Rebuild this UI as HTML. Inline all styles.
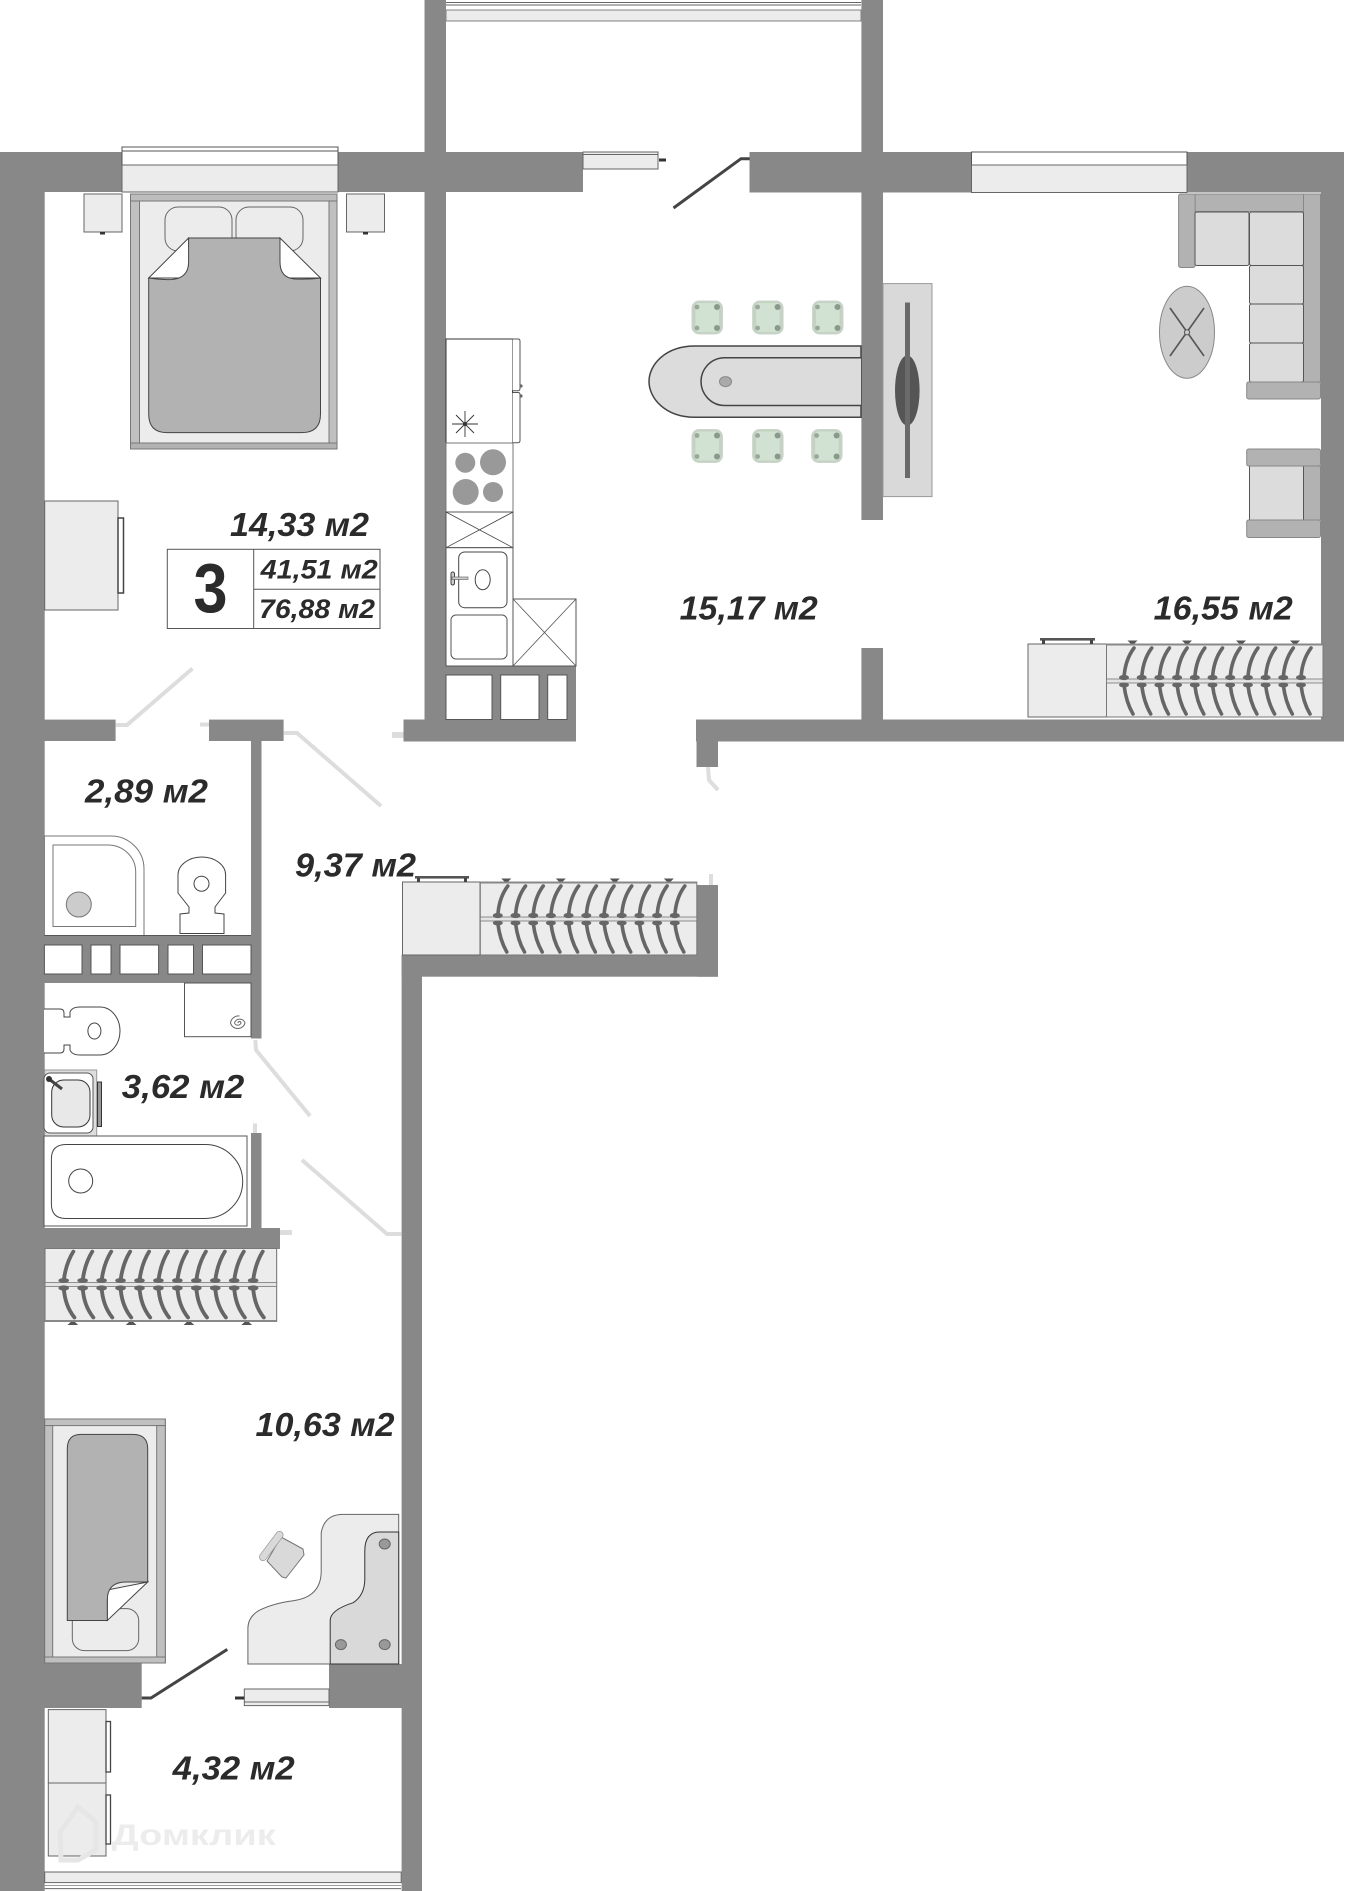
<!DOCTYPE html>
<html><head><meta charset="utf-8"><style>
html,body{margin:0;padding:0;background:#fff}
svg{display:block}
text{font-family:"Liberation Sans",sans-serif;font-weight:bold;font-style:italic;fill:#2b2b2b}
.w{fill:#888}
.l{fill:#fff;stroke:#555;stroke-width:1}
.g{fill:#ececec;stroke:#666;stroke-width:1}
.b{fill:#b2b2b2;stroke:#777;stroke-width:1}
.c{fill:#dcdcdc;stroke:#555;stroke-width:1}
.dl{fill:none;stroke:#ddd;stroke-width:4}
.dd{fill:none;stroke:#444;stroke-width:3}
</style></head><body>
<svg width="1345" height="1891" viewBox="0 0 1345 1891" xmlns="http://www.w3.org/2000/svg">
<defs>
<g id="h">
<path d="M10,4Q1,16 0,34" fill="none" stroke="#666" stroke-width="3.6" stroke-linecap="round"/>
<path d="M0,41Q2,58 9,70" fill="none" stroke="#666" stroke-width="3.6" stroke-linecap="round"/>
<ellipse cx="0" cy="33.5" rx="5" ry="2.6" fill="#666"/>
<ellipse cx="0" cy="41" rx="5" ry="2.4" fill="#666"/>
</g>
<g id="rack">
<rect x="0" y="0" width="216.5" height="73" fill="#ececec" stroke="#777"/>
<rect x="0" y="-.5" width="216.5" height="2" fill="#888"/>
<rect x="0" y="35" width="216.5" height="4" fill="#e4e4e4" stroke="#777" stroke-width=".8"/>
<use href="#h" x="17.5"/><use href="#h" x="35.2"/><use href="#h" x="52.9"/><use href="#h" x="70.6"/><use href="#h" x="88.3"/><use href="#h" x="106"/><use href="#h" x="123.7"/><use href="#h" x="141.4"/><use href="#h" x="159.1"/><use href="#h" x="176.8"/><use href="#h" x="194.5"/>
<path d="M21,-3.5H31L28,-.5H24ZM75.5,-3.5H85.5L82.5,-.5H78.5ZM129.5,-3.5H139.5L136.5,-.5H132.5ZM183.5,-3.5H193.5L190.5,-.5H186.5Z" fill="#555"/>
</g>
<g id="chair">
<rect x="0" y="0" width="30.5" height="33" rx="7" fill="#c4d2c4" stroke="#cdd6cd" stroke-width="1"/>
<rect x="3.5" y="2" width="23.5" height="29" rx="3" fill="#d2e2d2"/>
<ellipse cx="5" cy="6" rx="2.4" ry="2.4" fill="#9aa89a"/><ellipse cx="25" cy="6" rx="3" ry="3" fill="#8a9a8a"/><ellipse cx="5" cy="27" rx="2.4" ry="2.4" fill="#9aa89a"/><ellipse cx="25" cy="27" rx="3" ry="3" fill="#8a9a8a"/>
</g>
</defs>

<!-- balcony top window -->
<rect x="446" y="0" width="415" height="21" fill="#fff"/>
<rect x="446" y="10" width="415" height="11" fill="#ececec" stroke="#666" stroke-width=".8"/>
<line x1="446" y1="2.5" x2="861" y2="2.5" stroke="#666"/><line x1="446" y1="5" x2="861" y2="5" stroke="#666"/>

<!-- walls -->
<rect class="w" x="0" y="152" width="44.7" height="1739"/>
<rect class="w" x="0" y="152" width="122" height="40"/>
<rect class="w" x="338" y="152" width="245" height="40"/>
<rect class="w" x="424.5" y="0" width="21.5" height="741"/>
<rect class="w" x="749.5" y="152" width="222" height="40.5"/>
<rect class="w" x="861.4" y="0" width="21.6" height="520"/>
<rect class="w" x="861.4" y="648" width="21.6" height="72"/>
<rect class="w" x="1187" y="152" width="157" height="40.5"/>
<rect class="w" x="1321" y="152" width="23" height="589"/>
<rect class="w" x="696" y="719.5" width="648" height="22"/>
<rect class="w" x="696.5" y="719.5" width="21.5" height="47.5"/>
<!-- kitchen shaft -->
<rect class="w" x="403.5" y="719.5" width="172.5" height="22"/>
<rect class="w" x="446" y="666" width="130" height="75"/>
<rect x="446" y="675" width="46" height="44.5" class="l"/>
<rect x="500.7" y="675" width="38.3" height="44.5" class="l"/>
<rect x="547.7" y="675" width="19.3" height="44.5" class="l"/>
<!-- hall walls -->
<rect class="w" x="44" y="719.6" width="71.6" height="21.4"/>
<rect class="w" x="209" y="719.6" width="74.6" height="21.4"/>
<rect class="w" x="251" y="741" width="10.5" height="297.5"/>
<rect class="w" x="44" y="935.5" width="217" height="47.5"/>
<rect x="44.4" y="945" width="37.6" height="29" class="l" stroke-width=".5"/>
<rect x="91" y="945" width="20" height="29" class="l" stroke-width=".5"/>
<rect x="120" y="945" width="38.6" height="29" class="l" stroke-width=".5"/>
<rect x="168" y="945" width="25.5" height="29" class="l" stroke-width=".5"/>
<rect x="202.5" y="945" width="48.5" height="29" class="l" stroke-width=".5"/>
<rect class="w" x="251" y="1133" width="10.5" height="95"/>
<rect class="w" x="44" y="1228" width="236" height="21"/>
<rect class="w" x="401.6" y="955" width="20.4" height="936"/>
<rect class="w" x="401.6" y="955" width="316.4" height="21.7"/>
<rect class="w" x="697" y="885" width="21" height="91.7"/>
<rect class="w" x="44" y="1663" width="97.7" height="45"/>
<rect class="w" x="329" y="1664" width="73" height="44"/>

<!-- windows -->
<rect x="122" y="147" width="216" height="45" fill="#fff" stroke="#555"/>
<rect x="122" y="165" width="216" height="27" class="g"/>
<line x1="122" y1="151" x2="338" y2="151" stroke="#555"/>
<rect x="971.5" y="152" width="215.5" height="40.5" fill="#fff" stroke="#555"/>
<rect x="971.5" y="165" width="215.5" height="27.5" class="g"/>
<rect x="583" y="152" width="75" height="17" class="g"/>
<line x1="583" y1="154.5" x2="658" y2="154.5" stroke="#666"/>
<rect x="659" y="158.5" width="7" height="3" fill="#333"/>

<!-- doors -->
<path class="dd" d="M749.6,158.7H741L673.5,208"/>
<path class="dd" d="M141.7,1698H151L227.3,1649.4"/>
<path class="dl" d="M115.6,725H127L192.5,668.5"/>
<path class="dl" d="M283.6,733H297L381,806"/>
<path class="dl" d="M255.3,1040L256,1050L310,1116"/>
<path class="dl" d="M302,1160L387,1234H401.6"/>
<path class="dl" d="M708,767L709,780L718,790"/>
<rect x="200" y="722.5" width="9" height="4" fill="#ddd"/>
<rect x="392" y="732" width="11.5" height="6" fill="#ddd"/>
<rect x="709" y="874" width="4" height="11" fill="#ddd"/>
<rect x="253" y="1123.5" width="4" height="9.5" fill="#ddd"/>
<rect x="280" y="1230" width="12" height="5" fill="#ddd"/>

<!-- nightstands -->
<rect x="84" y="194" width="38" height="38" class="g"/><rect x="100" y="232" width="5" height="2.5" fill="#333"/>
<rect x="346.5" y="194" width="38" height="38" class="g"/><rect x="363" y="232" width="5" height="2.5" fill="#333"/>
<!-- bed 1 -->
<rect x="130.5" y="194" width="206.5" height="255" class="g"/>
<rect x="130.5" y="194" width="206.5" height="7" class="b" fill-opacity=".8"/>
<rect x="130.5" y="443" width="206.5" height="6" class="b"/>
<rect x="130.5" y="201" width="9" height="242" fill="#c0c0c0" stroke="#777"/>
<rect x="329" y="201" width="8" height="242" fill="#c0c0c0" stroke="#777"/>
<rect x="165" y="207" width="67" height="44" rx="13" class="g" stroke="#555"/>
<rect x="236" y="207" width="67" height="44" rx="13" class="g" stroke="#555"/>
<path d="M188.6,238L148.7,278H190ZM280,238L320.5,278H278Z" fill="#fff" stroke="#444"/>
<path d="M188.6,238H280V262Q280,278 295,279Q310,279.5 320.5,278V414Q320.5,432.6 302,432.6H167Q148.7,432.6 148.7,414V278Q160,280 172,279.5Q188.6,278 188.6,262Z" fill="#b2b2b2" stroke="#444"/>
<!-- bedroom wardrobe -->
<rect x="44.7" y="501" width="73.3" height="109" class="g"/>
<rect x="118" y="518" width="5.5" height="75" fill="#fff" stroke="#444" stroke-width="1.5"/>

<!-- kitchen -->
<rect x="446" y="339" width="66.5" height="104" fill="#fff" stroke="#333"/>
<path d="M512.5,339H518Q520,339 520,341V388.5Q520,390.7 518,390.7H512.5M512.5,392.5H518Q520,392.5 520,394.5V440.5Q520,442.7 518,442.7H512.5" fill="#fff" stroke="#555"/>
<circle cx="521" cy="386" r="1.6" fill="#666"/><circle cx="521" cy="396" r="1.6" fill="#666"/>
<g stroke="#333" stroke-width=".9"><line x1="452" y1="424" x2="478" y2="424"/><line x1="465" y1="411" x2="465" y2="437"/><line x1="456" y1="415" x2="474" y2="433"/><line x1="474" y1="415" x2="456" y2="433"/></g>
<circle cx="465" cy="424" r="2" fill="#333"/>
<rect x="446" y="443" width="67" height="69" fill="#fff" stroke="#777"/>
<circle cx="465.3" cy="462.7" r="10" fill="#999"/><circle cx="493" cy="462.3" r="13" fill="#999"/><circle cx="465.7" cy="492" r="13" fill="#999"/><circle cx="493" cy="492" r="10" fill="#999"/>
<rect x="446" y="512" width="67" height="35.7" fill="#fff" stroke="#555"/>
<path d="M446,512L513,547.7M513,512L446,547.7" stroke="#444" fill="none" stroke-width=".8"/>
<rect x="446" y="547.7" width="67" height="118.3" fill="#fff" stroke="#555"/>
<rect x="458.7" y="552" width="48.3" height="55.7" rx="6" fill="#fff" stroke="#444"/>
<ellipse cx="482.7" cy="579.7" rx="7.5" ry="10" fill="#fff" stroke="#444"/>
<rect x="451" y="572" width="3.5" height="13" rx="1.7" fill="#ccc" stroke="#444"/><rect x="452" y="577" width="16" height="2.5" fill="#ccc" stroke="#555" stroke-width=".6"/>
<rect x="451" y="615" width="56" height="44" rx="5" fill="#fff" stroke="#555"/>
<rect x="513" y="599" width="63" height="67" fill="#fff" stroke="#555"/>
<path d="M513,599L576,666M576,599L513,666" stroke="#555" fill="none" stroke-width=".8"/>

<!-- dining -->
<path d="M861,346H695C665,346 649,365 649,381.5C649,398 665,417.3 695,417.3H861Z" fill="#dcdcdc" stroke="#444" stroke-width="1.5"/>
<path d="M861,357.7H725C710,357.7 701,370 701,381.5C701,393 710,405.5 725,405.5H861" fill="#dcdcdc" stroke="#444" stroke-width="1.5"/>
<ellipse cx="725.5" cy="381.6" rx="6" ry="5" fill="#aaa" stroke="#888"/>
<use href="#chair" x="692" y="301"/><use href="#chair" x="752.6" y="301"/><use href="#chair" x="812.5" y="301"/>
<use href="#chair" x="692" y="429.5"/><use href="#chair" x="752.6" y="429.5"/><use href="#chair" x="811.6" y="429.5"/>
<!-- TV -->
<rect x="883" y="283.6" width="49" height="213" fill="#d9d9d9" stroke="#999"/>
<ellipse cx="907.3" cy="390.5" rx="12.3" ry="35" fill="#555"/>
<rect x="905" y="302.5" width="5" height="175.5" fill="#6a6a6a"/>

<!-- sofa -->
<rect x="1303.5" y="194" width="17" height="188" fill="#b2b2b2" stroke="#888"/>
<rect x="1195" y="194" width="108.5" height="17.5" fill="#b2b2b2" stroke="#888"/>
<rect x="1178.6" y="194" width="16.5" height="73.5" rx="2" fill="#b2b2b2" stroke="#888"/>
<rect x="1195" y="212" width="54" height="53.5" rx="2" fill="#dcdcdc" stroke="#555"/>
<rect x="1249.5" y="212" width="54" height="53.5" rx="2" fill="#dcdcdc" stroke="#555"/>
<rect x="1249.5" y="265.5" width="54" height="38.5" rx="2" fill="#dcdcdc" stroke="#555"/>
<rect x="1249.5" y="304" width="54" height="39" rx="2" fill="#dcdcdc" stroke="#555"/>
<rect x="1249.5" y="343" width="54" height="39" rx="2" fill="#dcdcdc" stroke="#555"/>
<rect x="1246.7" y="382" width="73.8" height="17" rx="2" fill="#b2b2b2" stroke="#888"/>
<ellipse cx="1187" cy="332.3" rx="27.5" ry="46" fill="#ccc" stroke="#888"/>
<path d="M1170,308L1204,356M1204,308L1170,356" stroke="#555" stroke-width="1.6" fill="none"/>
<circle cx="1187" cy="332.3" r="2.6" fill="#ccc" stroke="#555"/>
<!-- armchair -->
<rect x="1303.5" y="466" width="17" height="54" fill="#b2b2b2" stroke="#888"/>
<rect x="1249.5" y="466" width="54" height="54" fill="#dcdcdc" stroke="#555"/>
<rect x="1246.7" y="449" width="73.8" height="17" rx="2" fill="#b2b2b2" stroke="#888"/>
<rect x="1246.7" y="520" width="73.8" height="17.5" rx="2" fill="#b2b2b2" stroke="#888"/>

<!-- wardrobes -->
<rect x="1028" y="644" width="78.5" height="73" class="g"/>
<rect x="1040" y="638" width="55" height="2.6" fill="#555"/><rect x="1042" y="640" width="3" height="4" fill="#444"/><rect x="1090" y="640" width="3" height="4" fill="#444"/>
<use href="#rack" x="1106.5" y="644"/>
<rect x="402.5" y="882" width="77.5" height="73" class="g"/>
<rect x="415" y="876" width="54" height="2.6" fill="#555"/><rect x="417" y="878" width="3" height="4" fill="#444"/><rect x="464" y="878" width="3" height="4" fill="#444"/>
<use href="#rack" x="480.3" y="882"/>
<use href="#rack" transform="translate(45,1321.5) scale(1.07,-1)"/>

<!-- bath 2.89 -->
<path d="M44.4,836H111A33,33 0 0 1 144,869V935.5H44.4Z" fill="#fff" stroke="#777"/>
<path d="M53,845H108A27.7,27 0 0 1 135.7,872V926.5H53Z" fill="#fff" stroke="#777"/>
<circle cx="78.8" cy="904.5" r="12.5" fill="#ccc" stroke="#777"/>
<path d="M178,875V893L189,907V913L180,914V933.5H224V914L215,913V907L225.6,893V875A23.8,18 0 0 0 178,875Z" fill="#fff" stroke="#444"/>
<circle cx="201.5" cy="883.7" r="7.5" fill="#fff" stroke="#444"/>
<line x1="44.4" y1="935.5" x2="251" y2="935.5" stroke="#555"/>

<!-- bath 3.62 -->
<rect x="184.5" y="983" width="66.5" height="53.7" fill="#fff" stroke="#555"/>
<path d="M238,1023a1.5,1.5 0 0 1 3,0a3.5,3.5 0 0 1 -6.5,0a5.5,5.5 0 0 1 10.5,0a7.5,7.5 0 0 1 -14.5,0a8,8 0 0 1 9,-7" fill="none" stroke="#666"/>
<path d="M44,1009H60Q64,1009 64,1013V1017H70V1012Q72,1007 80,1007H100A20,24 0 0 1 100,1055H80Q72,1055 70,1050V1045H64V1049Q64,1053 60,1053H44" fill="#fff" stroke="#444"/>
<ellipse cx="94.4" cy="1031" rx="6.5" ry="8" fill="#fff" stroke="#444"/>
<rect x="44.7" y="1070" width="52" height="66.5" fill="#dedede" stroke="#999"/>
<rect x="44" y="1073" width="49" height="60" rx="6" fill="#fff" stroke="#555"/>
<rect x="51.7" y="1080" width="38.3" height="47" rx="12" fill="#e8e8e8" stroke="#333"/>
<line x1="49" y1="1079" x2="62" y2="1089" stroke="#444" stroke-width="3"/><circle cx="49" cy="1079" r="3" fill="#333"/>
<rect x="97.5" y="1082" width="4" height="44.5" fill="#999" stroke="#333" stroke-width="1"/>
<rect x="44" y="1136" width="203" height="90" fill="#fff" stroke="#555"/>
<path d="M66,1144.5H205A37.7,37 0 0 1 205,1218.5H66Q51.4,1218.5 51.4,1204V1159Q51.4,1144.5 66,1144.5Z" fill="#fff" stroke="#444"/>
<circle cx="80.7" cy="1181" r="12" fill="#fff" stroke="#444"/>

<!-- bed 2 -->
<rect x="44.7" y="1419" width="120.6" height="244" class="g"/>
<rect x="44.7" y="1419" width="120.6" height="6.6" fill="#c0c0c0" stroke="#777"/>
<rect x="44.7" y="1657" width="120.6" height="6" fill="#c0c0c0" stroke="#777"/>
<rect x="44.7" y="1425.6" width="8" height="231.4" fill="#c0c0c0" stroke="#777"/>
<rect x="156.7" y="1425.6" width="8.6" height="231.4" fill="#c0c0c0" stroke="#777"/>
<rect x="72.3" y="1608.6" width="66.4" height="42" rx="12" class="g"/>
<path d="M147.7,1582L107.3,1620.5V1590Z" fill="#fff" stroke="#444"/>
<path d="M147.7,1582H126Q107.3,1582 107.3,1600V1620.5H67.3V1449Q67.3,1434.4 81,1434.4H133Q147.7,1434.4 147.7,1449Z" fill="#b2b2b2" stroke="#444"/>

<!-- desk -->
<g transform="translate(2.2,0)">
<path d="M245.7,1664V1628Q246,1617 256.6,1610.6Q270,1603.5 291,1600.7Q319,1597 319,1571V1533Q322,1514.4 341,1514.4H396.5V1664Z" class="g" stroke="#333"/>
<path d="M328,1664V1620.5Q328,1610 351,1602.7Q362.6,1595 362.6,1579V1551Q362.6,1532 377.5,1532H396.5V1664Z" fill="#d9d9d9" stroke="#333"/>
<ellipse cx="382.5" cy="1544" rx="5.5" ry="5" fill="#999" stroke="#666"/><ellipse cx="338.7" cy="1644.6" rx="5.5" ry="5" fill="#999" stroke="#666"/><ellipse cx="382.5" cy="1644.6" rx="5.5" ry="5" fill="#999" stroke="#666"/>
</g>
<g transform="translate(1,0)">
<path d="M280,1537L302,1549L303,1555L285,1578L281,1577L266,1561Z" fill="#d9d9d9" stroke="#777" stroke-linejoin="round"/>
<line x1="278.5" y1="1535" x2="262" y2="1557" stroke="#999" stroke-width="8" stroke-linecap="round"/>
<line x1="278.5" y1="1535" x2="262" y2="1557" stroke="#d9d9d9" stroke-width="6.5" stroke-linecap="round"/>
</g>

<!-- door panel lower -->
<rect x="244.3" y="1689" width="84.7" height="16.6" class="g"/>
<line x1="244.3" y1="1702" x2="329" y2="1702" stroke="#666"/>
<rect x="235" y="1696.5" width="9.3" height="3" fill="#333"/>

<!-- balcony wardrobes -->
<rect x="48.3" y="1709.6" width="57.7" height="73.4" class="g"/>
<rect x="48.3" y="1783" width="57.7" height="73" class="g"/>
<rect x="106" y="1721.5" width="4.5" height="50.5" fill="#fff" stroke="#444" stroke-width="1.3"/>
<rect x="106" y="1795" width="4.5" height="49" fill="#fff" stroke="#444" stroke-width="1.3"/>
<rect x="44.7" y="1872" width="356.5" height="10.6" class="g"/>
<line x1="44.7" y1="1888.6" x2="401" y2="1888.6" stroke="#666"/>
<line x1="44.7" y1="1885.5" x2="401" y2="1885.5" stroke="#999"/>

<!-- watermark -->
<path d="M60,1832L78,1807L96,1822V1850L78,1860H61Z" fill="none" stroke="#e6e6e6" stroke-width="5"/>
<text x="111.7" y="1845" font-size="30" textLength="164" lengthAdjust="spacingAndGlyphs" style="fill:#ececec;font-style:normal">Домклик</text>

<!-- summary box -->
<rect x="167.3" y="549.3" width="212.7" height="79.2" fill="#fff" stroke="#555"/>
<line x1="253.7" y1="549.3" x2="253.7" y2="628.5" stroke="#555"/>
<line x1="253.7" y1="589.3" x2="380" y2="589.3" stroke="#555"/>
<text x="193.5" y="612" font-size="70" textLength="34" lengthAdjust="spacingAndGlyphs" style="font-style:normal">3</text>
<text x="260.7" y="578.7" font-size="27" textLength="117" lengthAdjust="spacingAndGlyphs">41,51 м2</text>
<text x="259" y="618" font-size="27" textLength="116" lengthAdjust="spacingAndGlyphs">76,88 м2</text>

<!-- labels -->
<text x="230" y="536" font-size="33" textLength="139" lengthAdjust="spacingAndGlyphs">14,33 м2</text>
<text x="679.7" y="619.4" font-size="33" textLength="138" lengthAdjust="spacingAndGlyphs">15,17 м2</text>
<text x="1153.7" y="619.4" font-size="33" textLength="139" lengthAdjust="spacingAndGlyphs">16,55 м2</text>
<text x="85" y="802.4" font-size="33" textLength="123" lengthAdjust="spacingAndGlyphs">2,89 м2</text>
<text x="295" y="876.7" font-size="33" textLength="121" lengthAdjust="spacingAndGlyphs">9,37 м2</text>
<text x="121.8" y="1098" font-size="33" textLength="122.5" lengthAdjust="spacingAndGlyphs">3,62 м2</text>
<text x="255.5" y="1436" font-size="33" textLength="139" lengthAdjust="spacingAndGlyphs">10,63 м2</text>
<text x="172.7" y="1779.7" font-size="33" textLength="122" lengthAdjust="spacingAndGlyphs">4,32 м2</text>
</svg>
</body></html>
